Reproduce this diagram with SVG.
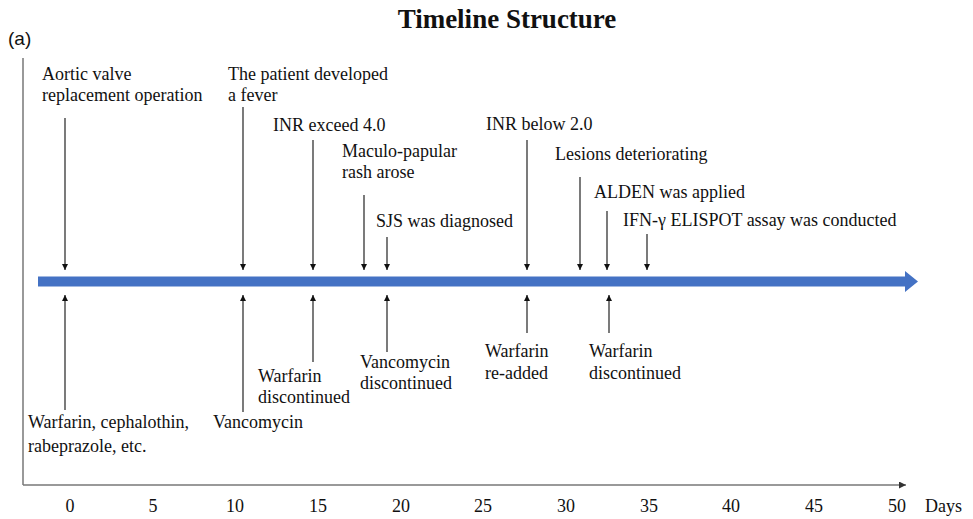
<svg xmlns="http://www.w3.org/2000/svg" width="973" height="519" viewBox="0 0 973 519">
<style>
text{font-family:"Liberation Serif","Times New Roman",serif;font-size:18px;fill:#111}
.tick{text-anchor:middle}
.ev{stroke:#222;stroke-width:1.2;fill:none}
.axis{stroke:#777;stroke-width:1.5;fill:none}
</style>
<defs>
<marker id="ah" viewBox="0 0 8 8" refX="8" refY="4" markerWidth="6" markerHeight="6" orient="auto" markerUnits="userSpaceOnUse">
<path d="M0,0 L8,4 L0,8 Z" fill="#111"/>
</marker>
<marker id="axh" viewBox="0 0 8 8" refX="8" refY="4" markerWidth="7" markerHeight="7" orient="auto" markerUnits="userSpaceOnUse">
<path d="M0,0 L8,4 L0,8 Z" fill="#333"/>
</marker>
</defs>
<rect width="973" height="519" fill="#fff"/>
<text x="507" y="28" style="font-size:27px;font-weight:bold;text-anchor:middle">Timeline Structure</text>
<text x="8" y="45" style="font-family:'Liberation Sans',Arial,sans-serif;font-size:19px">(a)</text>

<g id="axes">
<line class="axis" x1="23" y1="58" x2="23" y2="485"/>
<line class="axis" x1="23" y1="485" x2="906" y2="485" marker-end="url(#axh)"/>
<text class="tick" x="70" y="512">0</text>
<text class="tick" x="153" y="512">5</text>
<text class="tick" x="235" y="512">10</text>
<text class="tick" x="318" y="512">15</text>
<text class="tick" x="401" y="512">20</text>
<text class="tick" x="483" y="512">25</text>
<text class="tick" x="566" y="512">30</text>
<text class="tick" x="649" y="512">35</text>
<text class="tick" x="731" y="512">40</text>
<text class="tick" x="814" y="512">45</text>
<text class="tick" x="897" y="512">50</text>
<text x="925" y="512">Days</text>
</g>

<g id="timeline">
<path d="M38,276.5 H905 V271 L918,281.5 L905,292 V286.5 H38 Z" fill="#4472C4"/>
</g>

<g id="connectors">
<line class="ev" x1="65" y1="118" x2="65" y2="270" marker-end="url(#ah)"/>
<line class="ev" x1="243" y1="107" x2="243" y2="270" marker-end="url(#ah)"/>
<line class="ev" x1="313" y1="140" x2="313" y2="270" marker-end="url(#ah)"/>
<line class="ev" x1="364" y1="195" x2="364" y2="270" marker-end="url(#ah)"/>
<line class="ev" x1="387" y1="237" x2="387" y2="270" marker-end="url(#ah)"/>
<line class="ev" x1="527" y1="140" x2="527" y2="270" marker-end="url(#ah)"/>
<line class="ev" x1="580" y1="177" x2="580" y2="270" marker-end="url(#ah)"/>
<line class="ev" x1="607" y1="211" x2="607" y2="270" marker-end="url(#ah)"/>
<line class="ev" x1="647" y1="234" x2="647" y2="270" marker-end="url(#ah)"/>

<line class="ev" x1="65" y1="410" x2="65" y2="295" marker-end="url(#ah)"/>
<line class="ev" x1="243" y1="412" x2="243" y2="295" marker-end="url(#ah)"/>
<line class="ev" x1="313" y1="362" x2="313" y2="295" marker-end="url(#ah)"/>
<line class="ev" x1="387" y1="352" x2="387" y2="295" marker-end="url(#ah)"/>
<line class="ev" x1="527" y1="333" x2="527" y2="295" marker-end="url(#ah)"/>
<line class="ev" x1="609" y1="333" x2="609" y2="295" marker-end="url(#ah)"/>
</g>

<g id="n-aortic"><text x="42" y="80">Aortic valve</text><text x="42" y="101">replacement operation</text></g>
<g id="n-fever"><text x="228" y="80">The patient developed</text><text x="228" y="101">a fever</text></g>
<g id="n-inr4"><text x="273" y="131">INR exceed 4.0</text></g>
<g id="n-rash"><text x="342" y="157">Maculo-papular</text><text x="342" y="178">rash arose</text></g>
<g id="n-sjs"><text x="376" y="227">SJS was diagnosed</text></g>
<g id="n-inr2"><text x="486" y="130">INR below 2.0</text></g>
<g id="n-lesions"><text x="555" y="160">Lesions deteriorating</text></g>
<g id="n-alden"><text x="594" y="198">ALDEN was applied</text></g>
<g id="n-ifn"><text x="623" y="226">IFN-γ ELISPOT assay was conducted</text></g>

<g id="n-drugs"><text x="28" y="428">Warfarin, cephalothin,</text><text x="28" y="452">rabeprazole, etc.</text></g>
<g id="n-vanco"><text x="213" y="428">Vancomycin</text></g>
<g id="n-warf-dc1"><text x="258" y="382">Warfarin</text><text x="258" y="403">discontinued</text></g>
<g id="n-vanco-dc"><text x="360" y="368">Vancomycin</text><text x="360" y="389">discontinued</text></g>
<g id="n-warf-re"><text x="485" y="357">Warfarin</text><text x="485" y="379">re-added</text></g>
<g id="n-warf-dc2"><text x="589" y="357">Warfarin</text><text x="589" y="379">discontinued</text></g>
</svg>
